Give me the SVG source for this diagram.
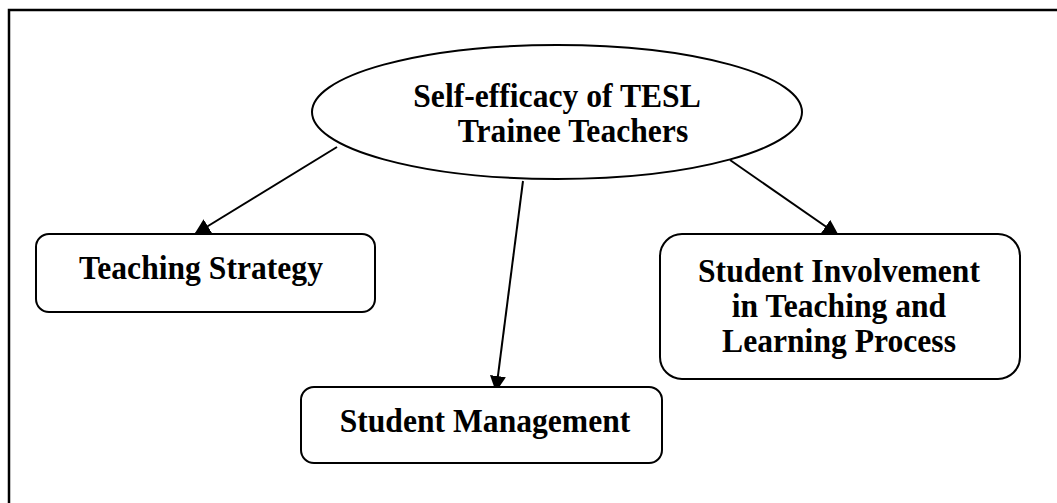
<svg xmlns="http://www.w3.org/2000/svg" width="1057" height="503" viewBox="0 0 1057 503">
<style>
.t{font-family:"Liberation Serif","Times New Roman",serif;font-weight:bold;font-size:34px;fill:#000;text-anchor:middle}
.n{fill:#fff;stroke:#000;stroke-width:2}
.c{stroke:#000;stroke-width:2;fill:none;marker-end:url(#ah)}
</style>
<defs>
<marker id="ah" viewBox="0 0 16 16" refX="15" refY="8" markerWidth="16" markerHeight="16" markerUnits="userSpaceOnUse" orient="auto">
<path d="M0,0 L16,8 L0,16 z" fill="#000"/>
</marker>
</defs>
<rect width="1057" height="503" fill="#fff"/>
<path d="M9,503 V10 H1057" fill="none" stroke="#000" stroke-width="2.5"/>
<g id="connectors">
<line class="c" x1="337" y1="147" x2="195" y2="234"/>
<line class="c" x1="523" y1="181" x2="496" y2="391"/>
<line class="c" x1="730" y1="160" x2="838" y2="235"/>
</g>
<g id="root">
<ellipse class="n" cx="557" cy="112" rx="245" ry="67"/>
<text class="t" transform="translate(557,107) scale(0.93,1)">Self-efficacy of TESL</text>
<text class="t" transform="translate(573,142) scale(0.93,1)">Trainee Teachers</text>
</g>
<g id="teaching-strategy">
<rect class="n" x="36" y="234" width="339" height="78" rx="13"/>
<text class="t" transform="translate(201,279) scale(0.93,1)">Teaching Strategy</text>
</g>
<g id="student-management">
<rect class="n" x="301" y="387" width="361" height="76" rx="13"/>
<text class="t" transform="translate(485,432) scale(0.93,1)">Student Management</text>
</g>
<g id="student-involvement">
<rect class="n" x="660" y="234" width="360" height="145" rx="22"/>
<text class="t" transform="translate(839,282) scale(0.93,1)">Student Involvement</text>
<text class="t" transform="translate(839,317) scale(0.93,1)">in Teaching and</text>
<text class="t" transform="translate(839,352) scale(0.93,1)">Learning Process</text>
</g>
</svg>
